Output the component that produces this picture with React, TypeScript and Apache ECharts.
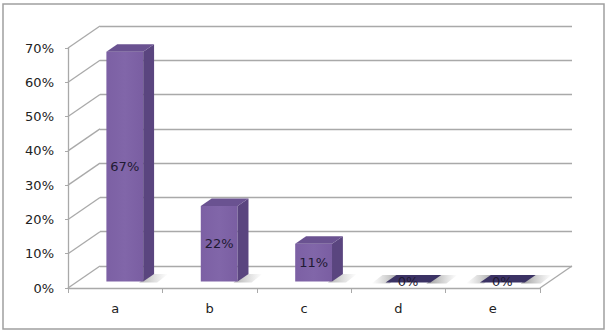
import React, { useEffect, useRef } from "react";
import * as echarts from "echarts";

const categories = ["a", "b", "c", "d", "e"];
const values = [0.67, 0.22, 0.11, 0, 0];
const valueLabels = ["67%", "22%", "11%", "0%", "0%"];
const yTicks = [0, 0.1, 0.2, 0.3, 0.4, 0.5, 0.6, 0.7];

const W = 606;
const H = 331;
const DX = 32;
const DY = -22;
const F0 = 0.3;
const F1 = 0.64;
const BAR_RATIO = 0.39;
const FRONT = { left: 68, right: 66, top: 48, bottom: 43 };
const GRID_COLOR = "#a9a9a9";
const FONT = "DejaVu Sans";

export default function App() {
  const ref = useRef<HTMLDivElement>(null);
  useEffect(() => {
    document.body.style.margin = "0";
    const chart = echarts.init(ref.current!, null, { renderer: "svg" });
    const option: any = {
      animation: false,
      backgroundColor: "#ffffff",
      graphic: [
        {
          type: "rect",
          shape: { x: 3, y: 4, width: 601, height: 325 },
          style: { fill: "none", stroke: "#a0a0a0", lineWidth: 1.5 },
          z: 100,
        },
      ],
      grid: [
        { ...FRONT },
        {
          left: FRONT.left + DX,
          right: FRONT.right - DX,
          top: FRONT.top + DY,
          bottom: FRONT.bottom - DY,
        },
      ],
      xAxis: [
        {
          type: "category",
          gridIndex: 0,
          data: categories,
          axisLine: { show: true, lineStyle: { color: GRID_COLOR, width: 1.3 } },
          axisTick: { show: true, length: 5, alignWithLabel: false, lineStyle: { color: GRID_COLOR } },
          axisLabel: { margin: 14, fontFamily: FONT, fontSize: 13, color: "#222" },
        },
        {
          type: "category",
          gridIndex: 1,
          data: categories,
          show: false,
        },
      ],
      yAxis: [
        {
          type: "value",
          gridIndex: 0,
          min: 0,
          max: 0.7,
          interval: 0.1,
          axisLine: { show: true, lineStyle: { color: GRID_COLOR, width: 1.3 } },
          axisTick: { show: true, length: 3, lineStyle: { color: GRID_COLOR } },
          splitLine: { show: false },
          axisLabel: {
            margin: 14,
            fontFamily: FONT,
            fontSize: 13,
            color: "#222",
            formatter: (v: number) => Math.round(v * 100) + "%",
          },
        },
        {
          type: "value",
          gridIndex: 1,
          min: 0,
          max: 0.7,
          interval: 0.1,
          axisLine: { show: false },
          axisTick: { show: false },
          axisLabel: { show: false },
          splitLine: { show: true, lineStyle: { color: GRID_COLOR, width: 1.3 } },
        },
      ],
      series: [
        {
          type: "custom",
          xAxisIndex: 0,
          yAxisIndex: 0,
          z: 1,
          silent: true,
          data: yTicks.map((v) => [0, v]),
          renderItem: (params: any, api: any) => {
            const cs = params.coordSys;
            const v = api.value(1);
            const y = api.coord([0, v])[1];
            const children: any[] = [
              {
                type: "line",
                shape: { x1: cs.x, y1: y, x2: cs.x + DX, y2: y + DY },
                style: { stroke: GRID_COLOR, lineWidth: 1.3 },
              },
            ];
            if (v === 0) {
              const xr = cs.x + cs.width;
              children.push({
                type: "line",
                shape: { x1: xr, y1: y, x2: xr + DX, y2: y + DY },
                style: { stroke: GRID_COLOR, lineWidth: 1.3 },
              });
            }
            return { type: "group", children };
          },
        },
        {
          type: "custom",
          xAxisIndex: 0,
          yAxisIndex: 0,
          z: 5,
          silent: true,
          data: values.map((v, i) => [i, v]),
          renderItem: (params: any, api: any) => {
            const i = api.value(0);
            const v = api.value(1);
            const base = api.coord([i, 0]);
            const top = api.coord([i, v]);
            const bw = api.size([1, 0])[0] * BAR_RATIO;
            const cx = base[0] + DX * F0;
            const zero = v === 0;
            const grow = zero ? 4 : 0;
            const x0 = cx - bw / 2 - grow;
            const x1 = cx + bw / 2 + grow;
            const yb = base[1] + DY * F0 + (zero ? 1 : 0);
            const yt = top[1] + DY * F0 + (zero ? 1 : 0);
            const ddx = DX * (F1 - F0);
            const ddy = DY * (F1 - F0);
            const children: any[] = [];
            const shadowGrad = (toRight: boolean, a: number) =>
              new echarts.graphic.LinearGradient(
                toRight ? 0 : 1, 0, toRight ? 1 : 0, 0,
                [
                  { offset: 0, color: `rgba(80,80,80,${a})` },
                  { offset: 1, color: "rgba(120,120,120,0)" },
                ]
              );
            const sw = zero ? 16 : 14;
            children.push({
              type: "polygon",
              shape: {
                points: [
                  [x1 + ddx - 4, yb + ddy],
                  [x1 + ddx + sw, yb + ddy],
                  [x1 + sw, yb + 1],
                  [x1 - 4, yb + 1],
                ],
              },
              style: { fill: shadowGrad(true, zero ? 0.6 : 0.45) },
            });
            if (zero) {
              children.push({
                type: "polygon",
                shape: {
                  points: [
                    [x0 + ddx + 4, yb + ddy],
                    [x0 + ddx - 14, yb + ddy],
                    [x0 - 14, yb + 1],
                    [x0 + 4, yb + 1],
                  ],
                },
                style: { fill: shadowGrad(false, 0.55) },
              });
            }
            if (!zero) {
              children.push({
                type: "rect",
                shape: { x: x0, y: yt, width: bw, height: yb - yt },
                style: {
                  fill: new echarts.graphic.LinearGradient(0, 0, 1, 0, [
                    { offset: 0, color: "#7c60a4" },
                    { offset: 0.5, color: "#8166a9" },
                    { offset: 1, color: "#7a5ea2" },
                  ]),
                },
              });
              children.push({
                type: "polygon",
                shape: {
                  points: [
                    [x1, yt],
                    [x1 + ddx, yt + ddy],
                    [x1 + ddx, yb + ddy],
                    [x1, yb],
                  ],
                },
                style: { fill: "#5a457f" },
              });
            }
            children.push({
              type: "polygon",
              shape: {
                points: [
                  [x0, yt],
                  [x1, yt],
                  [x1 + ddx, yt + ddy],
                  [x0 + ddx, yt + ddy],
                ],
              },
              style: { fill: zero ? "#3b3264" : "#6a5291" },
            });
            children.push({
              type: "text",
              x: cx,
              y: zero ? yb - 1 : (yt + yb) / 2,
              style: {
                text: valueLabels[i],
                fontFamily: FONT,
                fontSize: 13,
                fill: "#1f1a33",
                align: "center",
                verticalAlign: "middle",
              },
              z2: 10,
            });
            return { type: "group", children };
          },
        },
      ],
    };
    chart.setOption(option);
    return () => chart.dispose();
  }, []);
  return <div ref={ref} style={{ width: W, height: H }} />;
}
